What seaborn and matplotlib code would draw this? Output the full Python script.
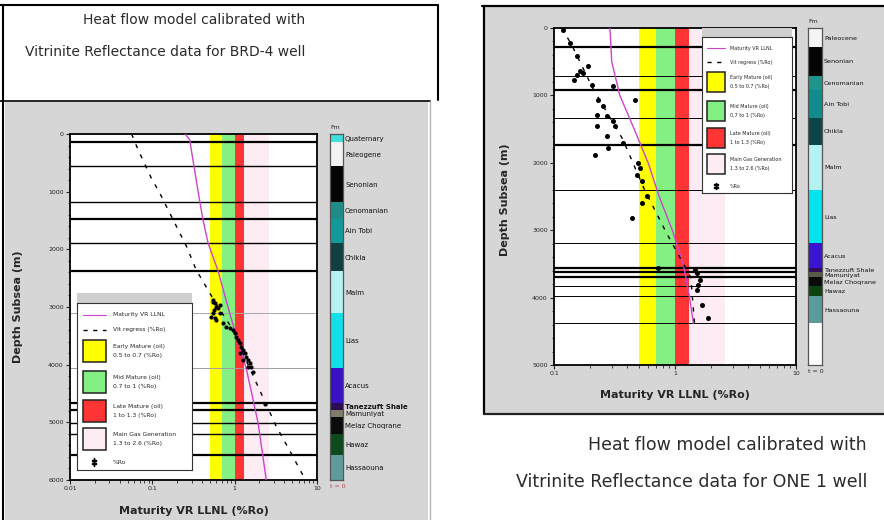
import matplotlib
matplotlib.use("Agg")
import matplotlib.pyplot as plt
import matplotlib.ticker as mticker
from matplotlib.patches import Rectangle
import numpy as np
import seaborn as sns

sns.set_style("ticks")
plt.rcParams['font.family'] = ['DejaVu Sans']

W, H = 884, 520

# maturity windows (%Ro)
win_lo = [0.5, 0.7, 1.0, 1.3]
win_hi = [0.7, 1.0, 1.3, 2.6]
win_col = ["#ffff00", "#84f084", "#ff3535", "#fdecf3"]
win_name = ["Early Mature (oil)\n0.5 to 0.7 (%Ro)",
            "Mid Mature (oil)\n0.7 to 1 (%Ro)",
            "Late Mature (oil)\n1 to 1.3 (%Ro)",
            "Main Gas Generation\n1.3 to 2.6 (%Ro)"]
model_col = "#cc44cc"

# ---- BRD-4 well
brd_model_d = [0, 100, 1000, 1470, 1890, 2378, 3107, 3400, 4060, 5000, 6000]
brd_model_v = [0.25, 0.284, 0.36, 0.41, 0.475, 0.63, 0.87, 1.0, 1.38, 1.92, 2.42]
brd_reg_d = [0, 270, 763, 1023, 1543, 1948, 2353, 2900, 3393, 3900, 4433, 5070, 5475, 5910]
brd_reg_v = [0.056, 0.067, 0.097, 0.123, 0.187, 0.26, 0.34, 0.57, 0.95, 1.35, 2.0, 3.2, 4.6, 6.7]
brd_ro_d = [2876, 2934, 2992, 3021, 2963, 3108, 3166, 3194, 3223, 3108, 3281, 3339, 3368, 3397,
            3455, 3513, 3571, 3628, 3686, 3744, 3802, 3860, 3918, 3976, 4034, 4120, 3802, 3918,
            4034, 4682, 2913, 3050]
brd_ro_v = [0.546, 0.573, 0.600, 0.628, 0.658, 0.546, 0.521, 0.573, 0.600, 0.658, 0.722, 0.792,
            0.870, 0.954, 1.0, 1.048, 1.098, 1.150, 1.205, 1.262, 1.322, 1.385, 1.451, 1.520,
            1.592, 1.668, 1.150, 1.262, 1.451, 2.31, 0.54, 0.56]
brd_fm = ["Quaternary", "Paleogene", "Senonian", "Cenomanian", "Ain Tobi", "Chikla", "Malm",
          "Lias", "Acacus", "Tanezzuft Shale", "Mamuniyat", "Melaz Choqrane", "Hawaz", "Hassaouna"]
brd_top = [0, 145, 561, 1180, 1470, 1892, 2378, 3107, 4062, 4670, 4786, 4900, 5208, 5567]
brd_fm_col = ["#3ee0dc", "#f2f2f2", "#050505", "#1f8c88", "#139a98", "#123f42", "#b6f2f2",
              "#10dfe8", "#3a12c6", "#2c0c52", "#807e66", "#0c0c0c", "#0f4a1e", "#5f9b9b"]
brd_line_d = [145, 561, 1180, 1470, 1892, 2378, 3107, 4062, 4670, 4786, 5006, 5208, 5567]
brd_line_w = [1.6, 1.0, 1.0, 1.6, 1.0, 1.6, 0.7, 0.7, 1.6, 1.6, 1.0, 1.0, 1.6]
brd_line_c = ["k", "k", "k", "k", "k", "k", "#a8a8a8", "#a0a0a0", "k", "k", "k", "k", "k"]

# ---- ONE 1 well
one_model_d = [0, 500, 1000, 1500, 2000, 2500, 3000, 3500, 4000, 4380]
one_model_v = [0.29, 0.30, 0.35, 0.46, 0.60, 0.74, 0.95, 1.17, 1.32, 1.42]
one_reg_d = [0, 250, 900, 1650, 2400, 3040, 3700, 4380]
one_reg_v = [0.116, 0.14, 0.21, 0.37, 0.56, 0.85, 1.35, 1.45]
one_ro_d = [25, 223, 420, 643, 668, 569, 767, 692, 841, 865, 1063, 1063, 1162, 1286, 1311, 1385,
            1459, 1459, 1607, 1706, 1780, 1879, 2003, 2077, 2176, 2275, 2497, 2596, 2819, 3561,
            3586, 3635, 3734, 3808, 3882, 4105, 4303]
one_ro_v = [0.119, 0.136, 0.154, 0.164, 0.175, 0.192, 0.145, 0.154, 0.205, 0.309, 0.467, 0.232,
            0.256, 0.225, 0.272, 0.309, 0.319, 0.225, 0.272, 0.374, 0.281, 0.218, 0.498, 0.514,
            0.482, 0.531, 0.583, 0.531, 0.438, 0.728, 1.46, 1.51, 1.61, 1.56, 1.51, 1.66, 1.88]
one_fm = ["Paleocene", "Senonian", "Cenomanian", "Ain Tobi", "Chikla", "Malm", "Lias", "Acacus",
          "Tanezzuft Shale", "Mamuniyat", "Melaz Choqrane", "Hawaz", "Hassaouna", ""]
one_top = [0, 287, 707, 925, 1335, 1731, 2408, 3190, 3561, 3625, 3694, 3833, 3981, 4377]
one_fm_col = ["#f4f4f4", "#050505", "#1d948c", "#108c8c", "#0a4646", "#b4f2f2", "#00e4ee",
              "#3a14d0", "#2e0c5e", "#5a5a48", "#0a0a0a", "#0e420e", "#5a9c9c", "#ffffff"]
one_line_d = [287, 707, 925, 1335, 1731, 2408, 3190, 3561, 3625, 3694, 3833, 3981, 4377]
one_line_w = [1.6, 0.7, 1.6, 0.7, 1.6, 0.7, 0.7, 1.6, 1.6, 1.6, 0.7, 0.7, 0.7]


def px_rect(x0, y0, x1, y1):
    return [x0 / W, 1 - y1 / H, (x1 - x0) / W, (y1 - y0) / H]


def draw_key(ax, box, fs):
    k = ax.inset_axes(box)
    k.set_zorder(6)
    k.set_xlim(0, 1)
    k.set_ylim(0, 1)
    k.set_xticks([])
    k.set_yticks([])
    for s in k.spines.values():
        s.set_linewidth(0.8)
        s.set_color("#333333")
    ax.add_patch(Rectangle((box[0], box[1] + box[3]), box[2], 0.028, transform=ax.transAxes,
                           fc="#cfcfcf", ec="none", zorder=6))
    k.plot([0.05, 0.25], [0.93, 0.93], color=model_col, lw=0.8)
    k.plot([0.05, 0.25], [0.84, 0.84], color="k", lw=1.0, ls=(0, (3, 4)))
    k.text(0.31, 0.93, "Maturity VR LLNL", fontsize=fs, va="center")
    k.text(0.31, 0.84, "Vit regress (%Ro)", fontsize=fs, va="center")
    for yc, c, n in zip([0.712, 0.527, 0.353, 0.185], win_col, win_name):
        k.add_patch(Rectangle((0.05, yc - 0.065), 0.2, 0.13, fc=c, ec="#222222", lw=1.1))
        k.text(0.31, yc, n, fontsize=fs, va="center", linespacing=1.9)
    k.plot([0.15], [0.045], marker="$\\ddagger$", color="k", ms=fs + 1)
    k.text(0.31, 0.045, "%Ro", fontsize=fs, va="center")


def draw_column(cax, fm, top, base, cols, fs, t0col, bold_tz):
    thick = np.diff(top + [base])
    cax.bar(0, thick, bottom=top, width=1, color=cols, edgecolor="none")
    cax.set_xlim(-0.5, 0.5)
    cax.set_ylim(base, 0)
    mids = [t + h / 2 for t, h in zip(top, thick)]
    cax.yaxis.tick_right()
    cax.set_yticks(mids, labels=fm)
    cax.set_xticks([])
    cax.tick_params(axis="y", length=0, pad=1.5, labelsize=fs, labelcolor="#111111")
    for lab in cax.get_yticklabels():
        if bold_tz and lab.get_text().startswith("Tanezzuft"):
            lab.set_fontweight("bold")
    for s in cax.spines.values():
        s.set_linewidth(0.9)
        s.set_color("#555555")
    cax.text(0.0, 1.012, "Fm", transform=cax.transAxes, ha="left", va="bottom", fontsize=4.5)
    cax.text(0.0, -0.012, "t = 0", transform=cax.transAxes, ha="left", va="top",
             fontsize=4.5, color=t0col)


def draw_panel(ax, xlim, dmax, mod_d, mod_v, reg_d, reg_v, ro_d, ro_v, ld, lw, lc, xt, pt_s):
    ax.set_facecolor("white")
    ax.set_xscale("log")
    for lo, hi, c in zip(win_lo, win_hi, win_col):
        ax.axvspan(lo, hi, color=c, lw=0, zorder=0)
    for d, w, c in zip(ld, lw, lc):
        ax.axhline(d, color=c, lw=w, zorder=2)
    sns.lineplot(x=mod_v, y=mod_d, sort=False, estimator=None, color=model_col, lw=1.0,
                 ax=ax, zorder=3)
    sns.lineplot(x=reg_v, y=reg_d, sort=False, estimator=None, color="k", lw=1.0,
                 linestyle=(0, (3, 5)), ax=ax, zorder=3)
    sns.scatterplot(x=ro_v, y=ro_d, color="k", s=pt_s, linewidth=0, ax=ax, zorder=4)
    ax.set_xlim(*xlim)
    ax.set_ylim(dmax, 0)
    ax.set_xticks(xt, labels=[("%g" % v) for v in xt])
    ax.xaxis.set_minor_locator(mticker.LogLocator(subs=np.arange(2, 10)))
    ax.xaxis.set_minor_formatter(mticker.NullFormatter())
    ax.set_yticks(np.arange(0, dmax + 1, 1000))
    ax.yaxis.set_minor_locator(mticker.MultipleLocator(200))
    ax.tick_params(which="major", labelsize=4.5, length=3, width=0.8, pad=1.5)
    ax.tick_params(which="minor", length=1.8, width=0.6)
    for s in ax.spines.values():
        s.set_linewidth(1.3)
        s.set_color("k")
    ax.set_xlabel("Maturity VR LLNL (%Ro)", fontsize=8, fontweight="bold")
    ax.set_ylabel("Depth Subsea (m)", fontsize=8, fontweight="bold")


fig = plt.figure(figsize=(W / 100, H / 100), dpi=100)

bg = fig.add_axes([0, 0, 1, 1])
bg.set_xlim(0, W)
bg.set_ylim(H, 0)
bg.axis("off")
# left screenshot frame
bg.add_patch(Rectangle((5, 102), 423, 418, fc="#d6d6d6", ec="none"))
bg.plot([429.5, 429.5], [102, 520], color="#b5b5b5", lw=1)
bg.plot([0, 438], [5, 5], color="k", lw=1.5)
bg.plot([438, 438], [5, 100], color="k", lw=1.5)
bg.plot([3, 3], [5, 520], color="k", lw=1.5)
bg.plot([0, 430], [100.5, 100.5], color="k", lw=1.2)
# right screenshot frame
bg.add_patch(Rectangle((485, 7), 399, 406, fc="#d6d6d6", ec="none"))
bg.plot([482, 884], [6, 6], color="k", lw=1.6)
bg.plot([484, 484], [6, 414], color="k", lw=1.6)
bg.plot([484, 884], [414, 414], color="#222222", lw=1.6)

tcol = "#2b2b2b"
bg.text(305, 20, "Heat flow model calibrated with", ha="right", va="center",
        fontsize=10, color=tcol)
bg.text(305, 52, "Vitrinite Reflectance data for BRD-4 well", ha="right", va="center",
        fontsize=10, color=tcol)
bg.text(867, 445, "Heat flow model calibrated with", ha="right", va="center",
        fontsize=12.5, color=tcol)
bg.text(867, 482, "Vitrinite Reflectance data for ONE 1 well", ha="right", va="center",
        fontsize=12.5, color=tcol)

# BRD-4 panel
ax1 = fig.add_axes(px_rect(70, 134, 317, 480))
draw_panel(ax1, (0.01, 10), 6000, brd_model_d, brd_model_v, brd_reg_d, brd_reg_v,
           brd_ro_d, brd_ro_v, brd_line_d, brd_line_w, brd_line_c, [0.01, 0.1, 1, 10], 9)
ax1.xaxis.set_label_coords(0.5, -0.075)
ax1.yaxis.set_label_coords(-0.19, 0.5)
draw_key(ax1, [0.028, 0.029, 0.466, 0.483], 4.3)
c1 = fig.add_axes(px_rect(330, 134, 343, 480))
draw_column(c1, brd_fm, brd_top, 6000, brd_fm_col, 5, "#c04848", True)

# ONE 1 panel
ax2 = fig.add_axes(px_rect(554, 28, 796, 365))
draw_panel(ax2, (0.1, 10), 5000, one_model_d, one_model_v, one_reg_d, one_reg_v,
           one_ro_d, one_ro_v, one_line_d, one_line_w, ["k"] * len(one_line_d),
           [0.1, 1, 10], 13)
ax2.xaxis.set_label_coords(0.5, -0.075)
ax2.yaxis.set_label_coords(-0.18, 0.49)
draw_key(ax2, [0.612, 0.510, 0.372, 0.463], 3.5)
c2 = fig.add_axes(px_rect(808, 28, 822, 365))
draw_column(c2, one_fm, one_top, 5000, one_fm_col, 4.6, "#222222", False)

fig.savefig("out.png", dpi=100)
